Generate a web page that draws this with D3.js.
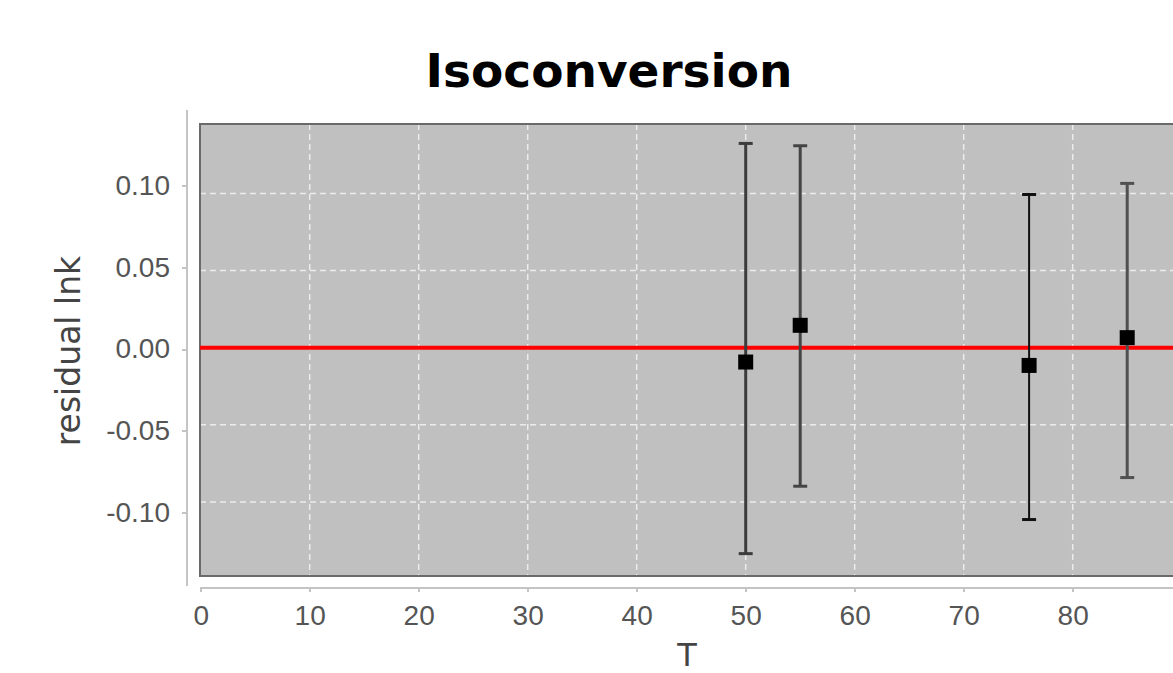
<!DOCTYPE html>
<meta charset="utf-8">
<title>Isoconversion</title>
<style type="text/css">
body {
  margin: 0;
  background: #fff;
  font-family: "DejaVu Sans", sans-serif;
}
.axis path, .axis line {
  fill: none;
  stroke: #c4c4c4;
  stroke-width: 2;
  shape-rendering: crispEdges;
}
.axis text {
  fill: #555;
  font-size: 28px;
}
.grid line {
  stroke: #ececec;
  stroke-width: 1.5;
  stroke-dasharray: 6,4;
}
</style>
<script src="https://cdn.jsdelivr.net/npm/d3@7/dist/d3.min.js"></script>
<body>
<script>
var width = 1173;
var height = 673;

// data
var temps = [50, 55, 76, 85];
var residuals = [-0.0093, 0.0145, -0.0115, 0.0065];
var errLow = [-0.1335, -0.0898, -0.1114, -0.0842];
var errHigh = [0.1324, 0.1309, 0.0993, 0.1065];
var xTicks = [0, 10, 20, 30, 40, 50, 60, 70, 80];
var yTicks = [-0.10, -0.05, 0.00, 0.05, 0.10];

// per bar look (the first ones are drawn a bit heavier)
var barColor = ["#3c3c3c", "#444", "#111", "#505050"];
var barWidth = [3, 3, 2, 3];

var plotLeft = 200, plotRight = 1182, plotTop = 124, plotBottom = 576;

var svg = d3.select('body').append('svg').attr('width', width).attr('height', height);

var x = d3.scaleLinear().domain([0, 90]).range([200.7, 1181.7]);
var y = d3.scaleLinear().domain([-0.148, 0.145]).range([plotBottom, plotTop]);
// the tick labels sit on a slightly wider spacing than the grid
var yAxisScale = d3.scaleLinear().domain([-0.10, 0.10]).range([512.5, 185.5]);

svg.append('text')
   .attr('x', 609)
   .attr('y', 87)
   .attr('text-anchor', 'middle')
   .style('font-size', '47px')
   .style('font-weight', 'bold')
   .attr('fill', '#000')
   .text('Isoconversion');

// plot background
svg.append('rect')
   .attr('x', plotLeft).attr('y', plotTop)
   .attr('width', plotRight - plotLeft).attr('height', plotBottom - plotTop)
   .attr('fill', '#c0c0c0');

var grid = svg.append('g').attr('class', 'grid');
grid.selectAll('.vg')
    .data(xTicks.filter(function(d) { return d > 0; }))
    .enter().append('line')
    .attr('x1', function(d) { return x(d); }).attr('x2', function(d) { return x(d); })
    .attr('y1', plotTop).attr('y2', plotBottom);
grid.selectAll('.hg')
    .data(yTicks)
    .enter().append('line')
    .attr('x1', plotLeft).attr('x2', plotRight)
    .attr('y1', function(d) { return y(d); }).attr('y2', function(d) { return y(d); });

svg.append('rect')
   .attr('x', plotLeft).attr('y', plotTop)
   .attr('width', plotRight - plotLeft).attr('height', plotBottom - plotTop)
   .attr('fill', 'none')
   .attr('stroke', '#6a6a6a')
   .attr('stroke-width', 2);

// zero line
svg.append('line')
   .attr('x1', plotLeft).attr('x2', plotRight)
   .attr('y1', y(0)).attr('y2', y(0))
   .attr('stroke', '#ff0000')
   .attr('stroke-width', 4);

// error bars
var bars = svg.selectAll('.err')
   .data(temps)
   .enter().append('g')
   .attr('class', 'err');

bars.append('line')
    .attr('x1', function(d) { return x(d); }).attr('x2', function(d) { return x(d); })
    .attr('y1', function(d, i) { return y(errHigh[i]); })
    .attr('y2', function(d, i) { return y(errLow[i]); })
    .attr('stroke', function(d, i) { return barColor[i]; })
    .attr('stroke-width', function(d, i) { return barWidth[i]; });

bars.append('line')
    .attr('x1', function(d) { return x(d) - 7; }).attr('x2', function(d) { return x(d) + 7; })
    .attr('y1', function(d, i) { return y(errHigh[i]); })
    .attr('y2', function(d, i) { return y(errHigh[i]); })
    .attr('stroke', function(d, i) { return barColor[i]; })
    .attr('stroke-width', 3);

bars.append('line')
    .attr('x1', function(d) { return x(d) - 7; }).attr('x2', function(d) { return x(d) + 7; })
    .attr('y1', function(d, i) { return y(errLow[i]); })
    .attr('y2', function(d, i) { return y(errLow[i]); })
    .attr('stroke', function(d, i) { return barColor[i]; })
    .attr('stroke-width', 3);

bars.append('rect')
    .attr('x', function(d) { return x(d) - 7.5; })
    .attr('y', function(d, i) { return y(residuals[i]) - 7.5; })
    .attr('width', 15).attr('height', 15)
    .attr('fill', '#000');

// axes
var xAx = svg.append('g')
   .attr('class', 'axis')
   .attr('transform', 'translate(0,588)')
   .call(d3.axisBottom(x).tickValues(xTicks).tickFormat(d3.format('d'))
          .tickSizeInner(4).tickSizeOuter(0).tickPadding(13));
xAx.select('.domain').attr('d', 'M200,0H1182');

var yAx = svg.append('g')
   .attr('class', 'axis')
   .attr('transform', 'translate(187,0)')
   .call(d3.axisLeft(yAxisScale).tickValues(yTicks)
          .tickFormat(function(d) { return d.toFixed(2).replace('\u2212', '-'); })
          .tickSizeInner(5).tickSizeOuter(0).tickPadding(12));
yAx.select('.domain').remove();
yAx.append('line')
   .attr('x1', 0).attr('x2', 0)
   .attr('y1', 110).attr('y2', 586)
   .attr('stroke', '#c4c4c4').attr('stroke-width', 2);

svg.append('text')
   .attr('transform', 'translate(80,351) rotate(-90)')
   .attr('text-anchor', 'middle')
   .style('font-size', '33px')
   .attr('fill', '#444')
   .text('residual lnk');

svg.append('text')
   .attr('x', 687)
   .attr('y', 666)
   .attr('text-anchor', 'middle')
   .style('font-size', '32px')
   .attr('fill', '#444')
   .text('T');
</script>
</body>
</html>
